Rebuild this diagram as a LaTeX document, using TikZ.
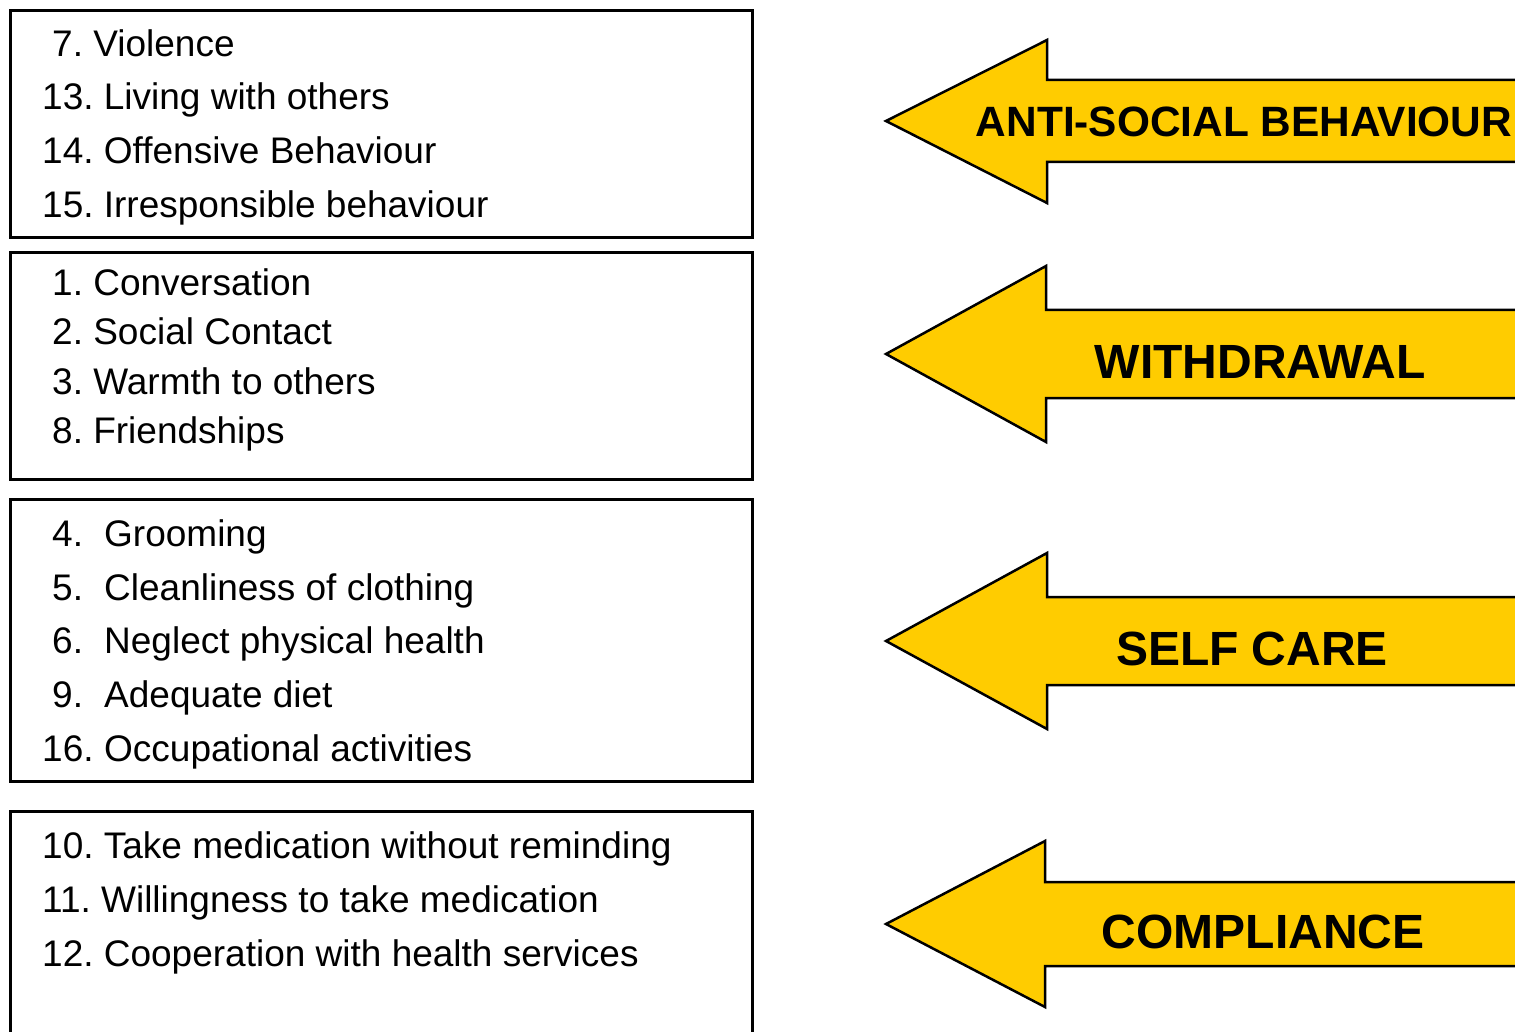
\documentclass[tikz,border=0pt]{standalone}
\usepackage{fontspec}
\setmainfont{Liberation Sans}
\frenchspacing
\definecolor{arrowyellow}{HTML}{FFCC00}
\begin{document}
\begin{tikzpicture}[x=1pt,y=-1pt,
  itembox/.style={draw=black,line width=3pt,anchor=north west,inner sep=0pt},
  item/.style={anchor=base west,inner sep=0pt,font=\fontsize{37}{40}\selectfont\frenchspacing},
  arrowshape/.style={fill=arrowyellow,draw=black,line width=2.5pt,line join=miter},
  biglabel/.style={anchor=base,inner sep=0pt,font=\fontsize{48}{52}\selectfont\bfseries},
  midlabel/.style={anchor=base,inner sep=0pt,font=\fontsize{42.4}{46}\selectfont\bfseries}]
\useasboundingbox (0,0) rectangle (1515,1032);
\clip (0,0) rectangle (1515,1032);
% boxes
\node[itembox,minimum width=742pt,minimum height=227pt] (b1) at (9,9) {};
\node[itembox,minimum width=742pt,minimum height=227pt] (b2) at (9,251) {};
\node[itembox,minimum width=742pt,minimum height=282pt] (b3) at (9,498) {};
\node[itembox,minimum width=742pt,minimum height=300pt] (b4) at (9,810) {};
% box 1
\node[item] (t7) at (52,57) {7. Violence};
\node[item] (t13) at (42,110) {13. Living with others};
\node[item] (t14) at (42,164) {14. Offensive Behaviour};
\node[item] (t15) at (42,218) {15. Irresponsible behaviour};
% box 2
\node[item] (t1) at (52,295) {1. Conversation};
\node[item] (t2) at (52,344) {2. Social Contact};
\node[item] (t3) at (52,394) {3. Warmth to others};
\node[item] (t8) at (52,443) {8. Friendships};
% box 3
\node[item] (n4) at (52,546) {4.};
\node[item] (t4) at (104,546) {Grooming};
\node[item] (n5) at (52,600) {5.};
\node[item] (t5) at (104,600) {Cleanliness of clothing};
\node[item] (n6) at (52,653) {6.};
\node[item] (t6) at (104,653) {Neglect physical health};
\node[item] (n9) at (52,707) {9.};
\node[item] (t9) at (104,707) {Adequate diet};
\node[item] (n16) at (42,761) {16.};
\node[item] (t16) at (104,761) {Occupational activities};
% box 4
\node[item] (t10) at (42,858) {10. Take medication without reminding};
\node[item] (t11) at (42,912) {11. Willingness to take medication};
\node[item] (t12) at (42,966) {12. Cooperation with health services};
% arrows
\draw[arrowshape] (886,121) -- (1047,40) -- (1047,80) -- (1560,80) -- (1560,162) -- (1047,162) -- (1047,203) -- cycle;
\draw[arrowshape] (886,354) -- (1046,266) -- (1046,310) -- (1560,310) -- (1560,398) -- (1046,398) -- (1046,442) -- cycle;
\draw[arrowshape] (886,641) -- (1047,553) -- (1047,597) -- (1560,597) -- (1560,685) -- (1047,685) -- (1047,729) -- cycle;
\draw[arrowshape] (886,924) -- (1045,841) -- (1045,882) -- (1560,882) -- (1560,966) -- (1045,966) -- (1045,1007) -- cycle;
\node[midlabel] (la) at (1244,137) {ANTI-SOCIAL BEHAVIOUR};
\node[biglabel] (lw) at (1260,378) {WITHDRAWAL};
\node[biglabel] (ls) at (1252,665) {SELF CARE};
\node[biglabel] (lc) at (1263,948) {COMPLIANCE};
\end{tikzpicture}
\end{document}
